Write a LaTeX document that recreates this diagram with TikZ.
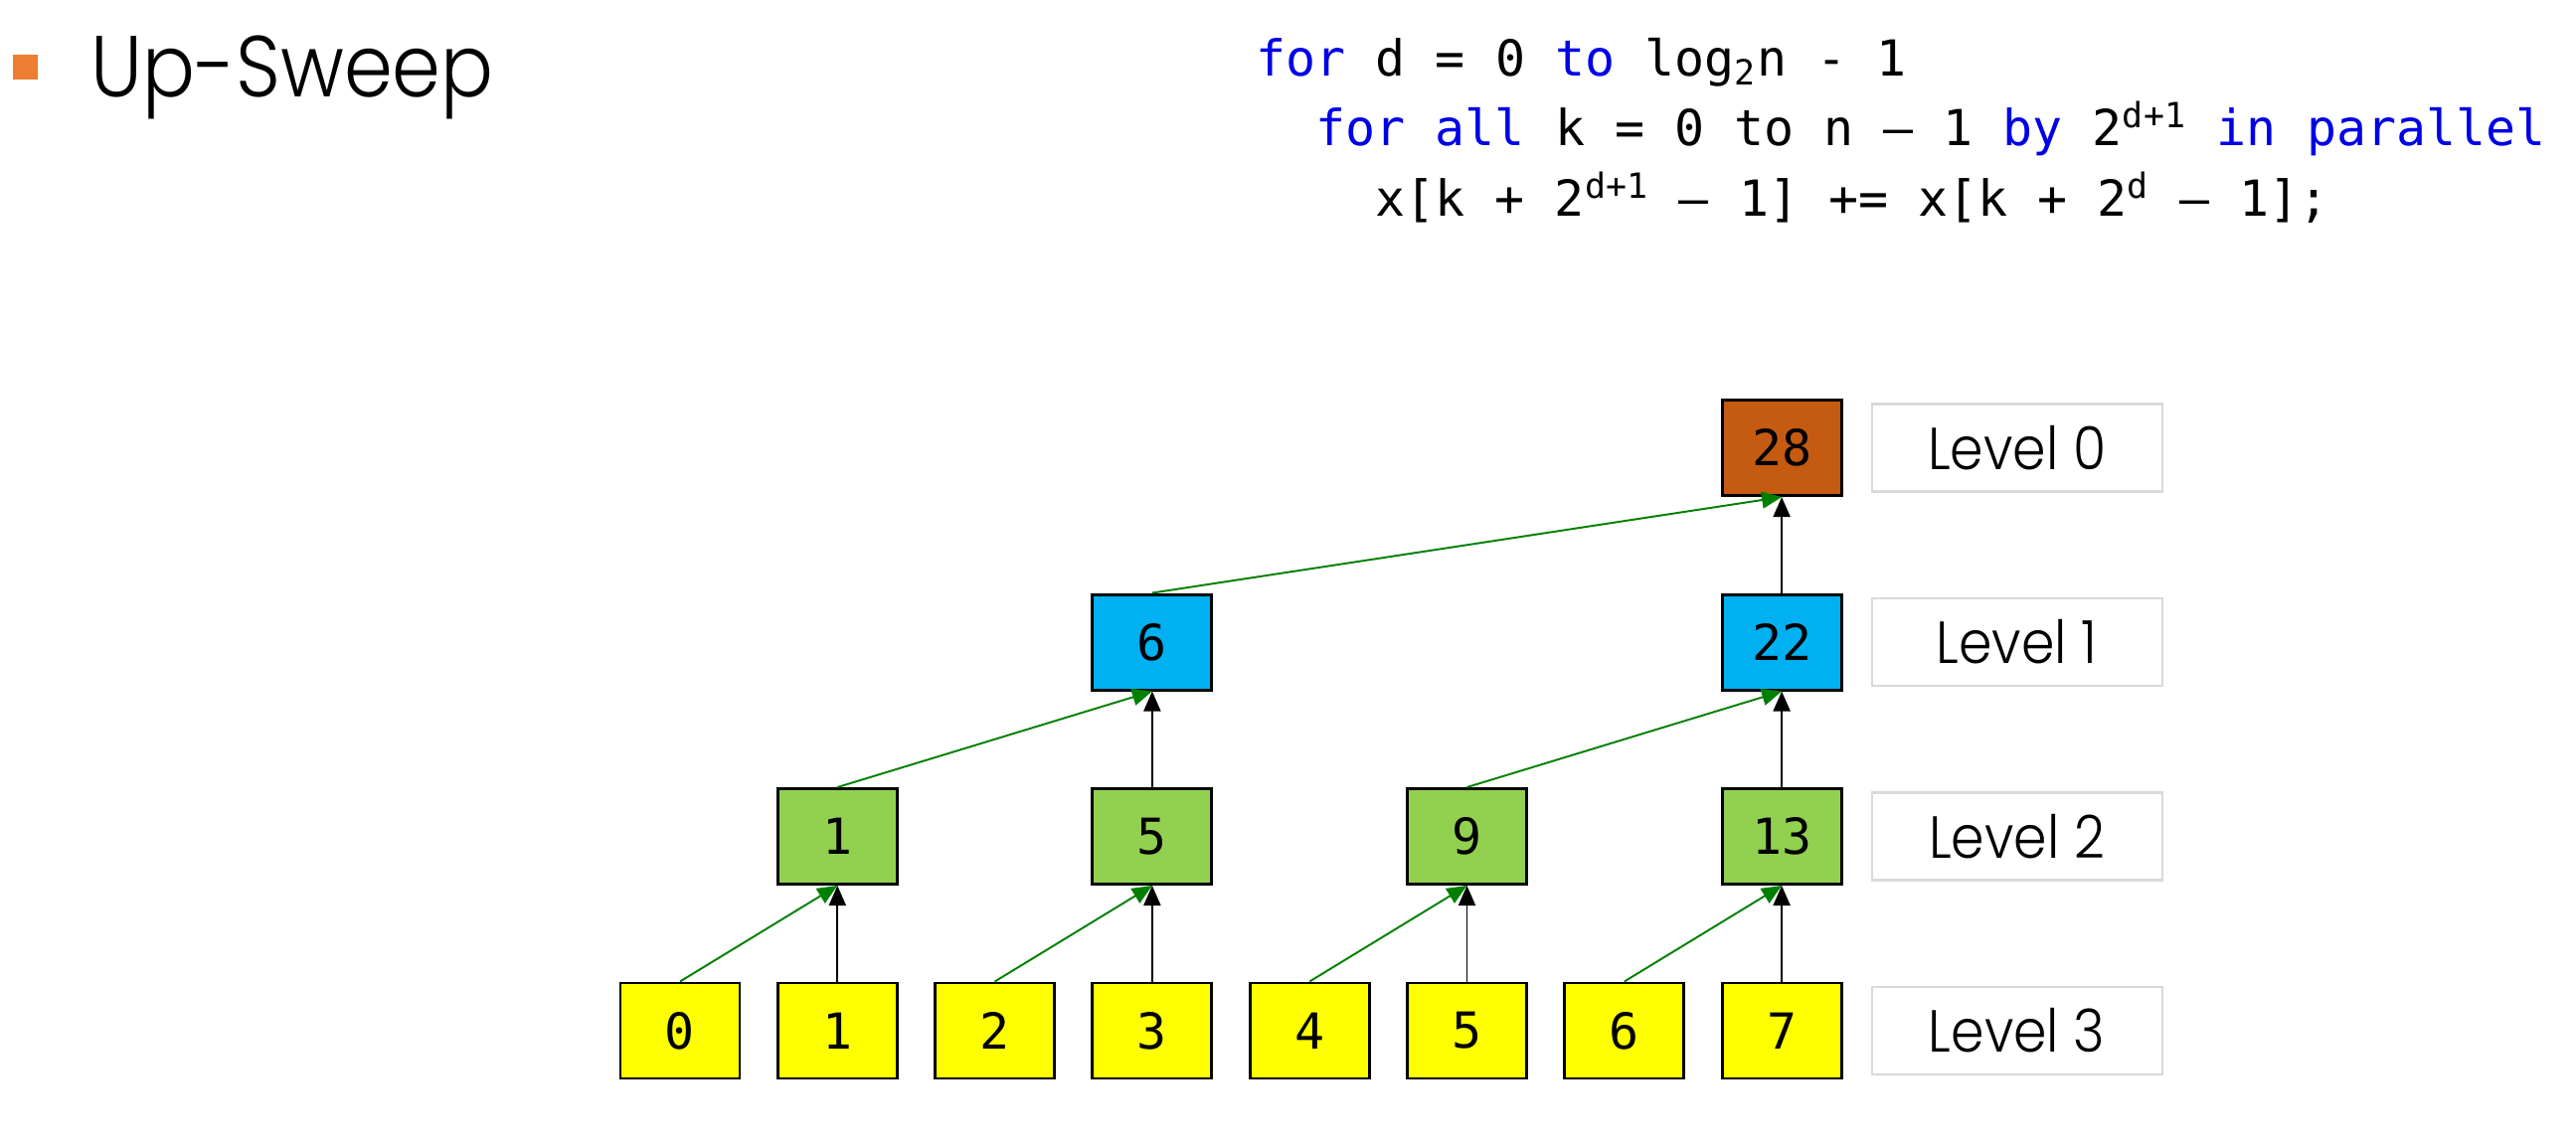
\documentclass[tikz,border=0pt]{standalone}
\usepackage{fontspec}
\setmainfont{Poppins Light}[FakeStretch=0.9]
\setmonofont{DejaVu Sans Mono}
\usepackage{xcolor}
\usetikzlibrary{arrows, arrows.meta}
\usetikzlibrary{positioning}
\definecolor{leafyellow}{RGB}{255,255,0}
\definecolor{sumgreen}{RGB}{146,208,80}
\definecolor{sumblue}{RGB}{0,176,240}
\definecolor{rootbrown}{RGB}{197,90,17}
\definecolor{bulletorange}{RGB}{237,125,49}
\definecolor{edgegreen}{RGB}{0,128,0}
\definecolor{codeblue}{RGB}{0,0,230}
\newcommand{\kw}[1]{{\color{codeblue}#1}}
\tikzset{
	cell/.style={draw=black, line width=0.85pt, minimum width=1.2cm, minimum height=0.96cm, inner sep=0pt, font=\fontsize{14.2}{17}\selectfont\ttfamily},
	levelbox/.style={draw=black!15, line width=0.6pt, minimum width=2.92cm, minimum height=0.88cm, inner sep=0pt, font=\fontsize{17}{20}\selectfont},
	codeline/.style={anchor=base west, inner sep=0pt, font=\fontsize{14.2}{17}\selectfont\ttfamily},
	addarrow/.style={-{Triangle[length=2mm,width=1.7mm]}, line width=0.55pt},
}
\begin{document}
\begin{tikzpicture}
	\useasboundingbox (0,0) rectangle (25.91,11.54);
	%title
	\fill[bulletorange] (0.13,10.74) rectangle (0.38,10.99);
	\node[anchor=base west, inner sep=0pt, font=\fontsize{24.8}{30}\selectfont] (title) at (0.91,10.56) {Up-Sweep};
	%code
	\node[codeline] (line1) at (12.63,10.77) {\kw{for} d = 0 \kw{to} log\textsubscript{2}n - 1};
	\node[codeline] (line2) at (13.23,10.07) {\kw{for all} k = 0 to n – 1 \kw{by} 2\textsuperscript{d+1} \kw{in parallel}};
	\node[codeline] (line3) at (13.83,9.36) {x[k + 2\textsuperscript{d+1} – 1] += x[k + 2\textsuperscript{d} – 1];};
	%level 3
	\foreach \i in {0,...,7}
		\node[cell, fill=leafyellow] (a\i) at ({6.84+1.583*\i},1.17) {\i};
	%level 2
	\node[cell, fill=sumgreen, above=0.965cm of a1] (b1) {1};
	\node[cell, fill=sumgreen, above=0.965cm of a3] (b3) {5};
	\node[cell, fill=sumgreen, above=0.965cm of a5] (b5) {9};
	\node[cell, fill=sumgreen, above=0.965cm of a7] (b7) {13};
	%level 1
	\node[cell, fill=sumblue, above=0.965cm of b3] (c3) {6};
	\node[cell, fill=sumblue, above=0.965cm of b7] (c7) {22};
	%level 0
	\node[cell, fill=rootbrown, above=0.965cm of c7] (d7) {28};
	%level names
	\node[levelbox, right=0.28cm of d7] (lv0) {Level 0};
	\node[levelbox, right=0.28cm of c7] (lv1) {Level 1};
	\node[levelbox, right=0.28cm of b7] (lv2) {Level 2};
	\node[levelbox, right=0.28cm of a7] (lv3) {Level 3};
	%sums
	\foreach \l/\r in {0/1,2/3,4/5,6/7}{
		\draw[addarrow, edgegreen] (a\l.north) -- (b\r.south);
		\draw[addarrow] (a\r.north) -- (b\r.south);
	}
	\foreach \l/\r in {1/3,5/7}{
		\draw[addarrow, edgegreen] (b\l.north) -- (c\r.south);
		\draw[addarrow] (b\r.north) -- (c\r.south);
	}
	\draw[addarrow, edgegreen] (c3.north) -- (d7.south);
	\draw[addarrow] (c7.north) -- (d7.south);
\end{tikzpicture}
\end{document}
